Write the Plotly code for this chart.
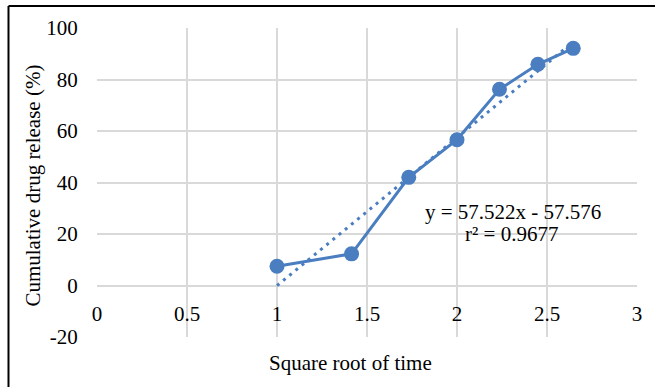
import numpy as np
import plotly.graph_objects as go

# Release data: square root of time vs cumulative drug release
time_points = [1, 2, 3, 4, 5, 6, 7]
sqrt_time = [float(np.sqrt(t)) for t in time_points]
release_pct = [7.5, 12.3, 42.0, 56.6, 76.2, 85.9, 92.1]

# Higuchi fit reported on the chart
slope = 57.522
intercept = -57.576
r_squared = 0.9677

x_ticks = [0, 0.5, 1, 1.5, 2, 2.5, 3]
y_ticks = [-20, 0, 20, 40, 60, 80, 100]

BLUE = "#4A7EC0"
GRID = "#D9D9D9"
FONT = "Liberation Serif"
FS = 21

fit_x = [sqrt_time[0], sqrt_time[-1]]
fit_y = [slope * x + intercept for x in fit_x]

fig = go.Figure()
fig.add_trace(go.Scatter(
    x=fit_x, y=fit_y, mode="lines",
    line=dict(color=BLUE, width=3, dash="3px,5px"),
    showlegend=False, hoverinfo="skip",
))
fig.add_trace(go.Scatter(
    x=sqrt_time, y=release_pct, mode="lines+markers",
    line=dict(color=BLUE, width=3),
    marker=dict(color=BLUE, size=15),
    showlegend=False,
))

y_min, y_max = -20, 100
zero_pos = (0 - y_min) / (y_max - y_min)

fig.update_layout(
    width=655, height=387,
    margin=dict(l=97, r=18, t=28, b=50),
    paper_bgcolor="white", plot_bgcolor="white",
    font=dict(family=FONT, size=FS, color="#000000"),
    xaxis=dict(
        range=[0, 3], tickvals=x_ticks, ticktext=[f"{v:g}" for v in x_ticks],
        showgrid=True, gridcolor=GRID, gridwidth=1.5,
        zeroline=False, showline=False,
        anchor="free", position=zero_pos,
        ticks="outside", ticklen=9, tickcolor="rgba(0,0,0,0)",
        tickfont=dict(family=FONT, size=FS),
    ),
    yaxis=dict(
        range=[y_min, y_max], tickvals=y_ticks,
        ticktext=[f"{v:g}" for v in y_ticks],
        showgrid=True, gridcolor=GRID, gridwidth=1.5,
        zeroline=True, zerolinecolor=GRID, zerolinewidth=1.5,
        showline=False,
        ticks="outside", ticklen=14, tickcolor="rgba(0,0,0,0)",
        tickfont=dict(family=FONT, size=FS),
    ),
    annotations=[
        dict(text="Square root of time", xref="paper", yref="paper",
             x=0.469, y=-0.085, xanchor="center", yanchor="middle",
             showarrow=False, font=dict(family=FONT, size=FS)),
        dict(text="Cumulative drug release (%)", xref="paper", yref="paper",
             x=-0.1185, y=0.49, xanchor="center", yanchor="middle",
             textangle=-90, showarrow=False, font=dict(family=FONT, size=FS)),
        dict(text=f"y = {slope}x - {abs(intercept)}",
             xref="x", yref="y", x=2.311, y=28.6, xanchor="center",
             yanchor="middle", showarrow=False,
             font=dict(family=FONT, size=FS)),
        dict(text=f"r² = {r_squared}",
             xref="x", yref="y", x=2.303, y=20.1, xanchor="center",
             yanchor="middle", showarrow=False,
             font=dict(family=FONT, size=FS)),
    ],
    shapes=[
        dict(type="line", xref="paper", yref="paper",
             x0=-0.1639, x1=1.04, y0=1.071, y1=1.071,
             line=dict(color="black", width=2)),
        dict(type="line", xref="paper", yref="paper",
             x0=-0.1639, x1=-0.1639, y0=1.071, y1=-0.2,
             line=dict(color="black", width=2)),
    ],
)

fig.write_html("out.html")
